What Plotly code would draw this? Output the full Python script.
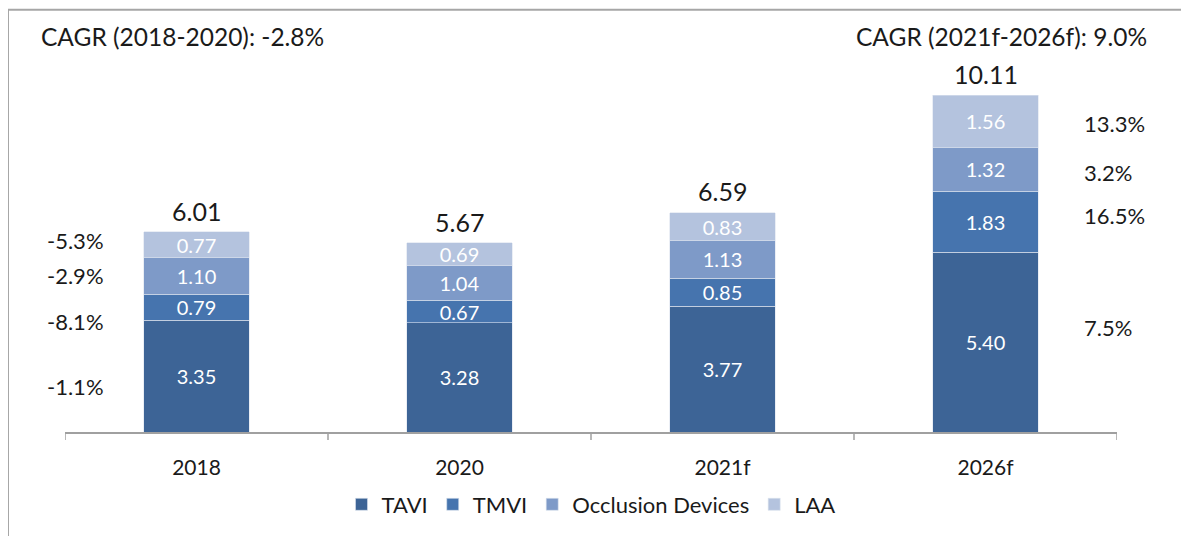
import plotly.graph_objects as go

# Datos
years = ["2018", "2020", "2021f", "2026f"]
tavi = [3.35, 3.28, 3.77, 5.40]
tmvi = [0.79, 0.67, 0.85, 1.83]
occlusion = [1.10, 1.04, 1.13, 1.32]
laa = [0.77, 0.69, 0.83, 1.56]
totals = [6.01, 5.67, 6.59, 10.11]
cagr_left = ["-1.1%", "-8.1%", "-2.9%", "-5.3%"]    # TAVI, TMVI, Occlusion, LAA (2018-2020)
cagr_right = ["7.5%", "16.5%", "3.2%", "13.3%"]     # TAVI, TMVI, Occlusion, LAA (2021f-2026f)
cagr_titles = ["CAGR (2018-2020): -2.8%", "CAGR (2021f-2026f): 9.0%"]

series = [("TAVI", tavi, "#3D6496"),
          ("TMVI", tmvi, "#4674AE"),
          ("Occlusion Devices", occlusion, "#7E9AC8"),
          ("LAA", laa, "#B4C3DE")]

FONT = "Lato"
TXT = "#1a1a1a"
xpos = list(range(len(years)))

fig = go.Figure()
for name, vals, col in series:
    fig.add_trace(go.Bar(x=xpos, y=vals, name=name, width=0.4,
                         marker=dict(color=col, line=dict(color="#DCE3EF", width=0.6)),
                         text=[f"{v:.2f}" for v in vals],
                         textposition="inside", insidetextanchor="middle",
                         textfont=dict(color="white", size=20, family=FONT),
                         constraintext="none"))

# Totales encima de cada barra
for i, tot in zip(xpos, totals):
    fig.add_annotation(x=i, y=tot, text=f"{tot:.2f}", showarrow=False,
                       yanchor="bottom", yshift=4,
                       font=dict(size=25, color=TXT, family=FONT))

# CAGR por segmento: izquierda (2018) y derecha (2026f)
first = [tavi[0], tmvi[0], occlusion[0], laa[0]]
last = [tavi[3], tmvi[3], occlusion[3], laa[3]]
left_shift = [-10, -14, 0, 4]
right_shift = [15, 6, -3, -2]
base = 0
for v, lab, sh in zip(first, cagr_left, left_shift):
    fig.add_annotation(x=-0.46, y=base + v / 2, text=lab, showarrow=False,
                       yshift=sh, font=dict(size=22, color=TXT, family=FONT))
    base += v
base = 0
for v, lab, sh in zip(last, cagr_right, right_shift):
    fig.add_annotation(x=3.365, y=base + v / 2, text=lab, showarrow=False,
                       xanchor="left", yshift=sh,
                       font=dict(size=22, color=TXT, family=FONT))
    base += v

# Títulos CAGR
fig.add_annotation(xref="paper", yref="paper", x=-0.025, y=1.01, xanchor="left",
                   yanchor="middle", text=cagr_titles[0], showarrow=False,
                   font=dict(size=24.5, color=TXT, family=FONT))
fig.add_annotation(xref="paper", yref="paper", x=1.03, y=1.01, xanchor="right",
                   yanchor="middle", text=cagr_titles[1], showarrow=False,
                   font=dict(size=24.5, color=TXT, family=FONT))

# Marco (solo izquierda y arriba visibles)
fig.add_shape(type="line", xref="paper", yref="paper", x0=-0.0542, x1=1.2, y0=1.077, y1=1.077,
              line=dict(color="#A6A6A6", width=2))
fig.add_shape(type="line", xref="paper", yref="paper", x0=-0.0542, x1=-0.0542, y0=1.077, y1=-0.5,
              line=dict(color="#A6A6A6", width=2))

fig.update_layout(
    barmode="stack",
    width=1189, height=536,
    margin=dict(l=57, r=80, t=32, b=112),
    plot_bgcolor="white", paper_bgcolor="white",
    font=dict(family=FONT, color=TXT),
    showlegend=True,
    legend=dict(orientation="h", x=0.5, xanchor="center", y=-0.185, yanchor="middle",
                font=dict(size=22, family=FONT, color=TXT), traceorder="normal",
                itemwidth=30),
    xaxis=dict(range=[-0.5, 3.5], tickmode="array", tickvals=xpos, ticktext=years,
               ticks="", showline=True, linecolor="#A0A0A0", linewidth=1.5,
               showgrid=False, zeroline=False,
               tickfont=dict(size=21, family=FONT, color=TXT), ticklabelstandoff=16),
    yaxis=dict(range=[0, 11.76], visible=False, showgrid=False),
)

# Marcas del eje en los límites de categoría
for b in [-0.5, 0.5, 1.5, 2.5, 3.5]:
    fig.add_shape(type="line", xref="x", yref="paper", x0=b, x1=b, y0=0, y1=-0.0205,
                  line=dict(color="#A0A0A0", width=1.5))

fig.write_html("out.html")
